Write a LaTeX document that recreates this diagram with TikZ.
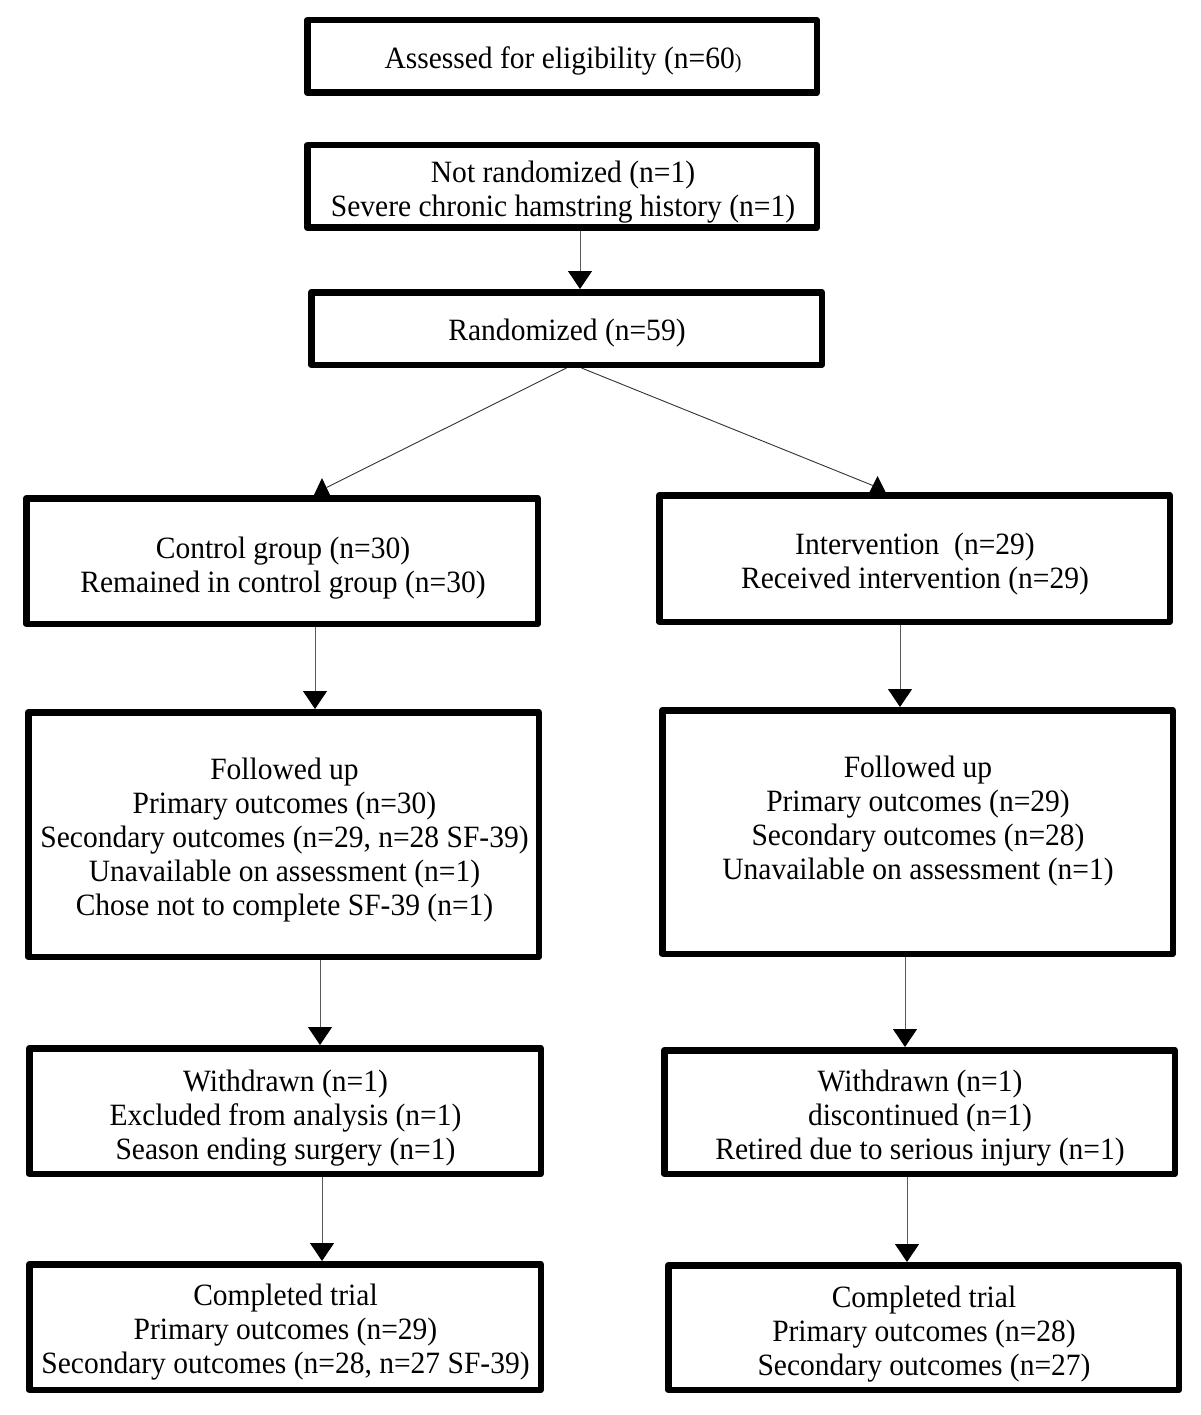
\documentclass[tikz,border=0pt]{standalone}
\usepackage{fontspec}
\setmainfont{Liberation Serif}[FakeStretch=0.952]
\usetikzlibrary{arrows.meta}
\newcommand\boxfont{\fontsize{31}{34}\selectfont}
\begin{document}
\begin{tikzpicture}[x=1pt,y=-1pt,
  box/.style={draw=black, line width=6.5pt, line join=round, fill=white, inner sep=0pt},
  txt/.style={inner sep=0pt, align=center, font=\boxfont},
  conn/.style={draw=black!65, line width=1pt, -{Triangle[length=18pt,width=24pt,color=black]}},
  diag/.style={draw=black!80, line width=0.9pt},
  tri/.style={fill=black}]
\fill[white] (0,0) rectangle (1200,1415);
\useasboundingbox (0,0) rectangle (1200,1415);

% boxes
\node[box, minimum width=509.5pt, minimum height=72.5pt] (a) at (562,56.5) {};
\node[box, minimum width=509.5pt, minimum height=82.5pt] (b) at (562,186.5) {};
\node[box, minimum width=510.5pt, minimum height=72.5pt] (r) at (566.5,328.5) {};
\node[box, minimum width=511.5pt, minimum height=125.5pt] (c) at (282,561) {};
\node[box, minimum width=510.5pt, minimum height=126.5pt] (i) at (914.5,558.5) {};
\node[box, minimum width=510.5pt, minimum height=244.5pt] (fl) at (283.5,834.5) {};
\node[box, minimum width=510.5pt, minimum height=243.5pt] (fr) at (917.5,832) {};
\node[box, minimum width=511.5pt, minimum height=125.5pt] (wl) at (285,1111) {};
\node[box, minimum width=510.5pt, minimum height=123.5pt] (wr) at (919.5,1112) {};
\node[box, minimum width=511.5pt, minimum height=125.5pt] (kl) at (285,1327) {};
\node[box, minimum width=510.5pt, minimum height=124.5pt] (kr) at (923.5,1327.5) {};

% texts
\node[txt] (at) at (563,61) {Assessed for eligibility (n=60{\fontsize{21}{21}\selectfont )}};
\node[txt] (bt) at (563,192) {Not randomized (n=1)\\Severe chronic hamstring history (n=1)};
\node[txt] (rt) at (567,333) {Randomized (n=59)};
\node[txt] (ct) at (283,568) {Control group (n=30)\\Remained in control group (n=30)};
\node[txt] (it) at (915,564) {Intervention~~(n=29)\\Received intervention (n=29)};
\node[txt] (flt) at (284.5,840) {Followed up\\Primary outcomes (n=30)\\Secondary outcomes (n=29, n=28 SF-39)\\Unavailable on assessment (n=1)\\Chose not to complete SF-39 (n=1)};
\node[txt] (frt) at (918,821.5) {Followed up\\Primary outcomes (n=29)\\Secondary outcomes (n=28)\\Unavailable on assessment (n=1)};
\node[txt] (wlt) at (285.5,1118) {Withdrawn (n=1)\\Excluded from analysis (n=1)\\Season ending surgery (n=1)};
\node[txt] (wrt) at (920,1118.5) {Withdrawn (n=1)\\discontinued (n=1)\\Retired due to serious injury (n=1)};
\node[txt] (klt) at (285.5,1332.5) {Completed trial\\Primary outcomes (n=29)\\Secondary outcomes (n=28, n=27 SF-39)};
\node[txt] (krt) at (924,1334) {Completed trial\\Primary outcomes (n=28)\\Secondary outcomes (n=27)};

% vertical connectors
\coordinate (b1) at ([xshift=18pt]b.south);
\draw[conn] (b1) -- (b1 |- r.north);
\coordinate (c1) at ([xshift=33pt]c.south);
\draw[conn] (c1) -- (c1 |- fl.north);
\coordinate (i1) at ([xshift=-14.5pt]i.south);
\draw[conn] (i1) -- (i1 |- fr.north);
\coordinate (fl1) at ([xshift=36.5pt]fl.south);
\draw[conn] (fl1) -- (fl1 |- wl.north);
\coordinate (fr1) at ([xshift=-12.5pt]fr.south);
\draw[conn] (fr1) -- (fr1 |- wr.north);
\coordinate (wl1) at ([xshift=37pt]wl.south);
\draw[conn] (wl1) -- (wl1 |- kl.north);
\coordinate (wr1) at ([xshift=-12.5pt]wr.south);
\draw[conn] (wr1) -- (wr1 |- kr.north);

% diagonal connectors with upright triangles
\coordinate (rl) at (r.south);
\coordinate (rr) at ([xshift=15pt]r.south);
\coordinate (ctip) at (326.5,487.5);
\coordinate (itip) at (872.8,485.5);
\fill[tri] (313,497) -- (331,497) -- (322,478) -- cycle;
\fill[tri] (868,495) -- (887,495) -- (877.5,476) -- cycle;
\draw[diag] (rl) -- (ctip);
\draw[diag] (rr) -- (itip);
\end{tikzpicture}
\end{document}
